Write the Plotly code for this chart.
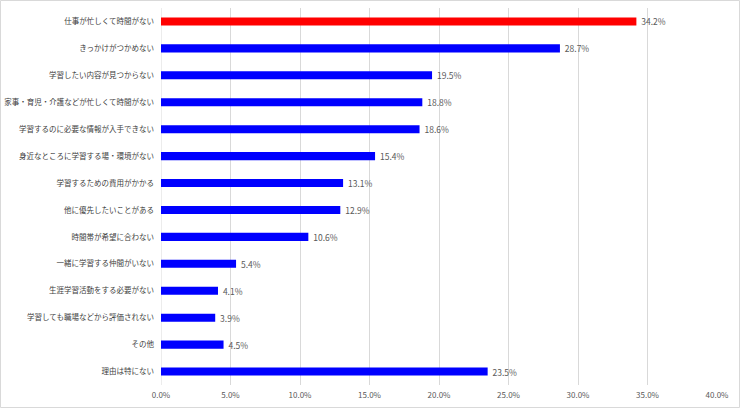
import plotly.graph_objects as go

categories = [
    "仕事が忙しくて時間がない",
    "きっかけがつかめない",
    "学習したい内容が見つからない",
    "家事・育児・介護などが忙しくて時間がない",
    "学習するのに必要な情報が入手できない",
    "身近なところに学習する場・環境がない",
    "学習するための費用がかかる",
    "他に優先したいことがある",
    "時間帯が希望に合わない",
    "一緒に学習する仲間がいない",
    "生涯学習活動をする必要がない",
    "学習しても職場などから評価されない",
    "その他",
    "理由は特にない",
]
values = [34.2, 28.7, 19.5, 18.8, 18.6, 15.4, 13.1, 12.9, 10.6, 5.4, 4.1, 3.9, 4.5, 23.5]
colors = ["#ff0000"] + ["#0000ff"] * (len(values) - 1)
tick_vals = [0, 5, 10, 15, 20, 25, 30, 35, 40]
tick_text = ["0.0%", "5.0%", "10.0%", "15.0%", "20.0%", "25.0%", "30.0%", "35.0%", "40.0%"]

font_family = "Noto Sans CJK JP, Noto Sans, sans-serif"

fig = go.Figure(go.Bar(
    x=values,
    y=categories,
    orientation="h",
    marker=dict(color=colors, line=dict(width=0)),
    text=["\u00a0" + f"{v:.1f}%" for v in values],
    textposition="outside",
    constraintext="none",
    textfont=dict(size=8.5, color="#595959", family=font_family),
    cliponaxis=False,
    hoverinfo="skip",
))

W, H = 740, 408
L, R, T, B = 161, 23, 8, 23
pw, ph = W - L - R, H - T - B

fig.update_layout(
    width=W, height=H,
    margin=dict(l=L, r=R, t=T, b=B, autoexpand=False),
    paper_bgcolor="white",
    plot_bgcolor="white",
    bargap=0.7,
    showlegend=False,
    font=dict(family=font_family, size=8, color="#404040"),
    xaxis=dict(
        range=[0, 40],
        tickvals=tick_vals,
        ticktext=tick_text,
        showgrid=True,
        gridcolor="#d9d9d9",
        gridwidth=1,
        zeroline=False,
        showline=False,
        automargin=False,
        tickfont=dict(size=8, color="#595959"),
        ticks="",
        ticklen=0,
        ticklabelstandoff=4,
        fixedrange=True,
    ),
    yaxis=dict(
        categoryorder="array",
        categoryarray=categories[::-1],
        autorange=False,
        range=[-0.5, len(categories) - 0.5],
        showgrid=False,
        zeroline=False,
        showline=False,
        automargin=False,
        ticks="",
        ticklen=0,
        ticklabelstandoff=6,
        tickfont=dict(size=7.5, color="#404040"),
        fixedrange=True,
    ),
    shapes=[
        dict(
            type="rect", xref="paper", yref="paper",
            x0=(0.5 - L) / pw, x1=(W - 0.5 - L) / pw,
            y0=-(B - 0.5) / ph,
            y1=(ph + T - 0.5) / ph,
            line=dict(color="#d9d9d9", width=1),
            fillcolor="rgba(0,0,0,0)",
            layer="below",
        ),
        dict(
            type="line", xref="x", yref="paper",
            x0=0, x1=0, y0=0, y1=1,
            line=dict(color="#d9d9d9", width=1),
            layer="below",
        ),
    ],
)

fig.write_html(
    "out.html",
    config={"displayModeBar": False},
    post_script="document.body.style.margin='0';document.body.style.overflow='hidden';",
)
